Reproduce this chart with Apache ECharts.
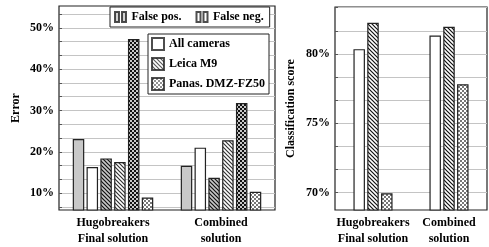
<!DOCTYPE html>
<html>
<head>
<meta charset="utf-8">
<style>
    html, body {margin: 0; padding: 0; background: #fff;}
    #main {width: 489px; height: 247px;}
</style>
<script src="https://cdn.jsdelivr.net/npm/echarts@6/dist/echarts.min.js"></script>
</head>
<body>
<div id="main"></div>
<script>
var categories = ['Hugobreakers\nFinal solution', 'Combined\nsolution'];

// left panel: error rates (%)
var allFalsePos = [23.1, 16.6];
var allFalseNeg = [16.3, 21.0];
var leicaFalsePos = [18.4, 13.7];
var leicaFalseNeg = [17.5, 22.8];
var panasFalsePos = [47.3, 31.8];
var panasFalseNeg = [8.9, 10.3];
var errorLabels = [10, 20, 30, 40, 50];
var errorTicks = [6.667, 10, 13.333, 16.667, 20, 23.333, 26.667, 30, 33.333, 36.667, 40, 43.333, 46.667, 50, 53.333];

// right panel: classification score (%)
var allScore = [80.34, 81.33];
var leicaScore = [82.24, 81.95];
var panasScore = [69.95, 77.81];
var scoreLabels = [70, 75, 80];
var scoreTicks = [70, 71.667, 73.333, 75, 76.667, 78.333, 80, 81.667, 83.333];

var font = "'Liberation Serif', 'DejaVu Serif', serif";
var gray = '#c8c8c8';
var edge = '#222';

function hatch(bg, fg) {
    var c = document.createElement('canvas');
    c.width = 4; c.height = 4;
    var ctx = c.getContext('2d');
    ctx.fillStyle = bg;
    ctx.fillRect(0, 0, 4, 4);
    ctx.strokeStyle = fg;
    ctx.lineWidth = 1.2;
    ctx.beginPath();
    ctx.moveTo(-1, -1); ctx.lineTo(5, 5);
    ctx.moveTo(-1, 3); ctx.lineTo(1, 5);
    ctx.moveTo(3, -1); ctx.lineTo(5, 1);
    ctx.stroke();
    return {image: c, repeat: 'repeat'};
}
function checker(bg, fg) {
    var c = document.createElement('canvas');
    c.width = 4; c.height = 4;
    var ctx = c.getContext('2d');
    ctx.fillStyle = bg;
    ctx.fillRect(0, 0, 4, 4);
    ctx.fillStyle = fg;
    ctx.fillRect(0, 0, 2, 2);
    ctx.fillRect(2, 2, 2, 2);
    return {image: c, repeat: 'repeat'};
}

var hatchPos = hatch(gray, '#111');
var hatchNeg = hatch('#fff', '#333');
var checkPos = checker(gray, '#111');
var checkNeg = checker('#fff', '#777');

var text = {color: '#000', fontFamily: font, fontWeight: 'bold', fontSize: 12};

function bar(name, data, color, gi) {
    return {
        name: name,
        type: 'bar',
        xAxisIndex: gi,
        yAxisIndex: gi,
        barWidth: 11.5,
        barGap: '20%',
        data: data,
        itemStyle: {color: color, borderColor: edge, borderWidth: 1.2}
    };
}
// empty series, only there so the legends get their entries
function dummy(name, color) {
    return {
        name: name,
        type: 'scatter',
        xAxisIndex: 0,
        yAxisIndex: 0,
        data: [],
        itemStyle: {color: color, borderColor: edge, borderWidth: 1}
    };
}

function yAxis(gi, min, max, ticks, labels, name, gap) {
    return {
        type: 'value',
        gridIndex: gi,
        min: min,
        max: max,
        name: name,
        nameLocation: 'middle',
        nameGap: gap,
        nameTextStyle: text,
        axisLine: {show: false},
        axisTick: {show: true, inside: true, length: 3, customValues: ticks, lineStyle: {color: '#555'}},
        axisLabel: {customValues: labels, formatter: '{value}%', margin: 5, color: '#000', fontFamily: font, fontWeight: 'bold', fontSize: 12},
        splitLine: {show: true, lineStyle: {color: '#c4c4c4', width: 1}}
    };
}
function xAxis(gi) {
    return {
        type: 'category',
        gridIndex: gi,
        data: categories,
        axisLine: {show: false},
        axisTick: {show: false},
        axisLabel: {interval: 0, margin: 5, lineHeight: 16, color: '#000', fontFamily: font, fontWeight: 'bold', fontSize: 12}
    };
}

var myChart = echarts.init(document.getElementById('main'));
var option = {
    animation: false,
    backgroundColor: '#fff',
    grid: [
        {left: 59, right: 214, top: 6, bottom: 35, show: true, borderColor: edge, borderWidth: 1.2},
        {left: 335, right: 2, top: 7, bottom: 35, show: true, borderColor: edge, borderWidth: 1.2}
    ],
    xAxis: [xAxis(0), xAxis(1)],
    yAxis: [
        yAxis(0, 5.9, 55.3, errorTicks, errorLabels, 'Error', 37),
        yAxis(1, 68.74, 83.38, scoreTicks, scoreLabels, 'Classification score', 38)
    ],
    legend: [
        {
            data: [
                {name: 'False pos.', icon: 'path://M0,0h4v10h-4zM7,0h4v10h-4z'},
                {name: 'False neg.', icon: 'path://M0,0h4v10h-4zM7,0h4v10h-4z'}
            ],
            left: 110,
            top: 7,
            orient: 'horizontal',
            itemWidth: 12,
            itemHeight: 10,
            itemGap: 14,
            padding: [4, 6, 4, 4],
            selectedMode: false,
            backgroundColor: '#fff',
            borderColor: edge,
            borderWidth: 1,
            textStyle: text
        },
        {
            data: [
                {name: 'All cameras', icon: 'rect'},
                {name: 'Leica M9', icon: 'rect'},
                {name: 'Panas. DMZ-FZ50', icon: 'rect'}
            ],
            left: 148,
            top: 34,
            orient: 'vertical',
            itemWidth: 12,
            itemHeight: 12,
            itemGap: 6,
            padding: [3, 4, 3, 3],
            selectedMode: false,
            backgroundColor: '#fff',
            borderColor: edge,
            borderWidth: 1,
            textStyle: text
        }
    ],
    series: [
        bar('All cameras, false pos.', allFalsePos, gray, 0),
        bar('All cameras, false neg.', allFalseNeg, '#fff', 0),
        bar('Leica M9, false pos.', leicaFalsePos, hatchPos, 0),
        bar('Leica M9, false neg.', leicaFalseNeg, hatchNeg, 0),
        bar('Panas. DMZ-FZ50, false pos.', panasFalsePos, checkPos, 0),
        bar('Panas. DMZ-FZ50, false neg.', panasFalseNeg, checkNeg, 0),
        bar('All cameras score', allScore, '#fff', 1),
        bar('Leica M9 score', leicaScore, hatch('#fff', '#111'), 1),
        bar('Panas. DMZ-FZ50 score', panasScore, checkNeg, 1),
        dummy('False pos.', gray),
        dummy('False neg.', '#fff'),
        dummy('All cameras', '#fff'),
        dummy('Leica M9', hatchNeg),
        dummy('Panas. DMZ-FZ50', checkNeg)
    ]
};
myChart.setOption(option);
</script>
</body>
</html>
